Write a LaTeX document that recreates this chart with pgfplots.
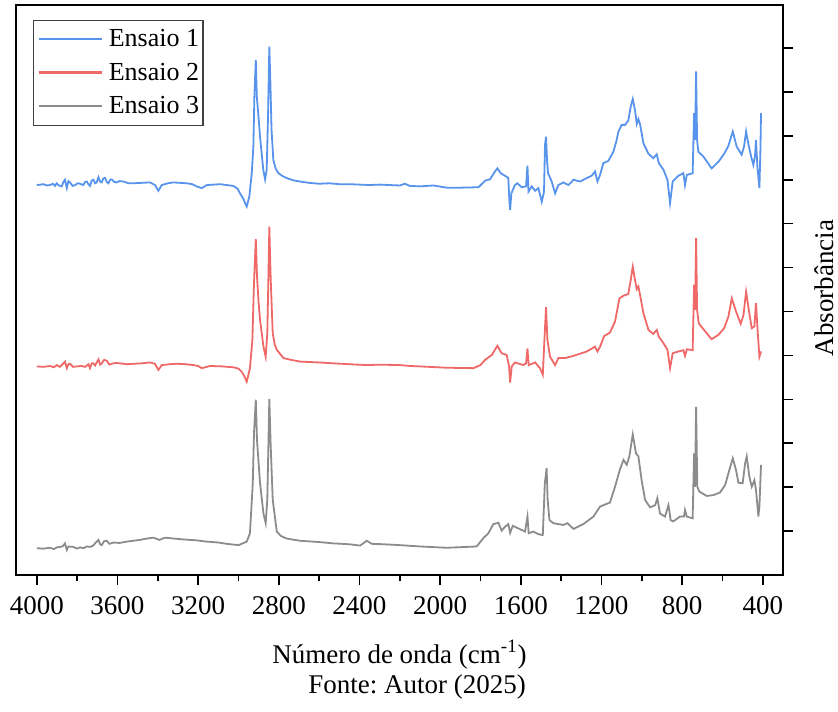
\documentclass[border=0pt]{standalone}
\usepackage{pgfplots}
\pgfplotsset{compat=1.18}
\usepackage{fontspec}
\setmainfont{Liberation Serif}
\frenchspacing
\definecolor{cblue}{RGB}{88,148,235}
\definecolor{cred}{RGB}{240,105,105}
\definecolor{cgray}{RGB}{140,140,140}
\begin{document}
\begin{tikzpicture}
\path[use as bounding box] (-8pt,-68pt) rectangle (411pt,287.5pt);
\begin{axis}[
  at={(0pt,0pt)}, anchor=south west,
  scale only axis, width=383.5pt, height=285pt,
  x dir=reverse, xmin=300, xmax=4103, ymin=0, ymax=12.98,
  axis line style={line width=1pt},
  xtick={400,800,...,4000}, minor x tick num=1,
  ytick={1,2,...,12}, yticklabels={},
  xtick pos=left, ytick pos=right,
  tick align=outside, major tick length=5pt, minor tick length=3pt,
  every tick/.style={black, line width=0.8pt},
  xticklabel style={font=\fontsize{13.5}{16}\selectfont, yshift=-2pt},
  /pgf/number format/set thousands separator={},
  /pgf/number format/assume math mode=true,
  xlabel={Número de onda (cm\textsuperscript{-1})},
  xlabel style={at={(axis description cs:0.5,0)}, anchor=base, yshift=-44pt, font=\fontsize{13.5}{16}\selectfont},
  ylabel={Absorbância},
  ylabel style={at={(axis description cs:1.0535,0.5035)}, anchor=center, font=\fontsize{13.5}{16}\selectfont},
  legend style={at={(axis description cs:0.0222,0.9737)}, anchor=north west,
    draw=black!75, line width=0.6pt, inner xsep=2pt, inner ysep=3pt,
    font=\fontsize{13}{15}\selectfont, row sep=3.75pt,
    nodes={inner sep=0pt, text height=10pt, text depth=3pt},
    /tikz/every odd column/.append style={column sep=3pt}},
  legend cell align=left,
  legend image code/.code={\draw[#1, line width=1.1pt, yshift=0.25pt] (0pt,0pt) -- (31.5pt,0pt);},
  every axis plot/.append style={line width=0.9pt},
]
\addplot[color=cblue] table {
x y
4000 8.88
3980 8.89
3967 8.90
3950 8.87
3934 8.88
3920 8.91
3910 8.86
3901 8.92
3890 8.87
3876 8.85
3868 8.95
3860 9.00
3851 8.81
3843 8.97
3835 8.94
3822 8.86
3810 8.88
3797 8.92
3785 8.91
3770 8.88
3760 8.95
3752 8.96
3744 8.90
3736 8.86
3728 8.98
3719 9.00
3711 8.92
3703 8.94
3694 9.06
3686 8.96
3678 8.94
3670 9.03
3661 9.04
3653 8.95
3645 8.92
3636 9.00
3628 9.01
3616 8.95
3604 8.94
3590 8.97
3570 8.96
3545 8.92
3521 8.92
3480 8.93
3438 8.94
3414 8.88
3397 8.75
3380 8.88
3350 8.92
3323 8.94
3290 8.93
3256 8.92
3230 8.90
3207 8.85
3182 8.81
3157 8.88
3120 8.89
3091 8.90
3060 8.88
3025 8.86
3005 8.80
2992 8.69
2975 8.56
2967 8.47
2959 8.39
2946 8.62
2934 9.15
2926 9.76
2921 10.90
2914 11.73
2909 10.90
2900 10.40
2893 9.98
2877 9.23
2868 9.01
2860 9.23
2853 10.52
2847 12.03
2842 11.28
2836 10.14
2827 9.45
2815 9.25
2802 9.15
2780 9.08
2761 9.04
2730 8.99
2695 8.96
2650 8.93
2600 8.91
2550 8.92
2500 8.90
2450 8.90
2400 8.89
2350 8.88
2300 8.89
2250 8.88
2200 8.87
2175 8.91
2150 8.86
2100 8.85
2034 8.87
1967 8.82
1901 8.82
1810 8.83
1790 8.92
1777 8.98
1753 9.01
1728 9.19
1716 9.26
1700 9.15
1678 9.09
1662 9.04
1657 8.54
1653 8.31
1647 8.69
1629 8.88
1617 8.92
1596 8.83
1574 8.85
1567 9.32
1562 8.73
1546 8.85
1529 8.75
1513 8.81
1496 8.50
1485 8.73
1480 9.80
1475 9.98
1470 9.45
1465 9.15
1447 8.96
1430 8.69
1414 8.88
1389 8.94
1364 8.88
1339 9.00
1306 8.96
1273 9.04
1249 9.09
1232 9.19
1220 8.96
1207 9.11
1191 9.38
1166 9.43
1141 9.64
1125 9.90
1116 10.10
1100 10.25
1083 10.25
1067 10.35
1055 10.67
1045 10.84
1034 10.59
1025 10.27
1017 10.38
1009 10.27
992 9.83
967 9.59
943 9.49
926 9.58
916 9.38
893 9.23
873 9.00
860 8.47
847 8.96
819 9.09
794 9.15
786 8.88
777 9.11
748 9.15
741 10.52
736 9.91
731 11.47
726 9.91
720 9.64
695 9.53
654 9.26
620 9.41
592 9.59
571 9.77
549 10.10
530 9.76
505 9.57
493 9.76
483 10.10
472 9.82
458 9.53
447 9.34
439 9.53
434 9.91
427 9.30
417 8.81
412 9.68
409 10.52
};
\addlegendentry{Ensaio 1}
\addplot[color=cred] table {
x y
4000 4.75
3967 4.74
3934 4.76
3915 4.73
3901 4.78
3885 4.74
3868 4.82
3860 4.86
3851 4.71
3843 4.80
3835 4.81
3820 4.74
3802 4.75
3780 4.76
3760 4.74
3752 4.77
3744 4.80
3736 4.71
3728 4.82
3719 4.82
3711 4.77
3694 4.91
3686 4.79
3678 4.82
3666 4.90
3653 4.88
3640 4.79
3628 4.81
3610 4.83
3587 4.82
3550 4.80
3521 4.81
3480 4.82
3438 4.84
3414 4.81
3397 4.67
3380 4.78
3340 4.80
3306 4.81
3260 4.80
3223 4.78
3200 4.76
3182 4.71
3141 4.76
3080 4.75
3025 4.73
3000 4.70
2984 4.63
2970 4.52
2959 4.40
2943 4.71
2931 5.35
2923 6.64
2914 7.65
2908 6.80
2900 6.20
2893 5.81
2876 5.20
2865 4.97
2857 5.50
2852 6.64
2847 7.93
2840 6.72
2830 5.50
2820 5.25
2810 5.13
2777 4.94
2740 4.90
2695 4.86
2600 4.84
2529 4.82
2450 4.80
2364 4.78
2300 4.79
2199 4.78
2150 4.76
2100 4.75
1967 4.72
1835 4.71
1800 4.78
1777 4.90
1744 5.01
1716 5.22
1695 5.05
1670 5.01
1658 4.75
1653 4.38
1645 4.75
1629 4.84
1587 4.78
1574 4.82
1567 5.16
1561 4.78
1529 4.84
1505 4.71
1491 4.56
1483 5.35
1475 6.10
1468 5.35
1455 4.97
1430 4.78
1414 4.94
1381 4.94
1339 4.99
1273 5.09
1232 5.20
1220 5.09
1207 5.20
1187 5.44
1158 5.52
1133 5.77
1111 6.30
1091 6.36
1067 6.40
1055 6.72
1045 7.02
1034 6.72
1025 6.51
1017 6.57
1009 6.38
992 5.96
967 5.58
943 5.49
926 5.58
916 5.43
893 5.28
873 5.13
860 4.71
847 5.05
819 5.09
794 5.12
786 4.99
777 5.14
748 5.12
741 6.61
736 6.04
731 7.67
726 6.04
718 5.73
695 5.60
654 5.37
620 5.47
592 5.62
571 5.88
554 6.30
533 6.00
510 5.72
496 5.92
483 6.45
467 5.96
455 5.62
442 5.66
434 6.19
425 5.50
417 4.97
409 5.09
};
\addlegendentry{Ensaio 2}
\addplot[color=cgray] table {
x y
4000 0.61
3967 0.60
3934 0.62
3915 0.59
3900 0.63
3884 0.64
3870 0.66
3860 0.72
3851 0.57
3843 0.65
3818 0.64
3800 0.60
3785 0.63
3769 0.61
3752 0.65
3736 0.64
3720 0.67
3711 0.72
3694 0.80
3686 0.70
3678 0.68
3666 0.77
3653 0.78
3640 0.71
3620 0.74
3590 0.73
3554 0.76
3520 0.78
3488 0.80
3455 0.83
3422 0.85
3392 0.80
3364 0.85
3320 0.83
3273 0.81
3210 0.79
3157 0.76
3100 0.74
3058 0.71
3000 0.68
2959 0.76
2943 0.95
2929 2.09
2923 3.23
2914 3.99
2908 3.07
2893 2.09
2876 1.40
2865 1.18
2857 1.71
2852 2.85
2847 4.01
2840 2.92
2830 1.71
2810 0.99
2790 0.89
2761 0.83
2695 0.78
2600 0.75
2529 0.72
2450 0.70
2397 0.67
2364 0.78
2339 0.71
2280 0.70
2199 0.68
2100 0.65
1967 0.62
1819 0.65
1786 0.84
1761 0.95
1736 1.16
1711 1.19
1695 1.01
1678 1.10
1662 1.16
1653 0.96
1640 1.12
1612 1.06
1579 0.99
1567 1.33
1561 0.95
1538 0.99
1513 0.93
1491 0.91
1481 2.09
1472 2.43
1467 1.71
1458 1.25
1439 1.18
1389 1.14
1369 1.18
1339 1.05
1290 1.16
1240 1.33
1207 1.56
1158 1.65
1133 2.01
1108 2.41
1091 2.62
1075 2.51
1062 2.70
1045 3.20
1029 2.77
1017 2.70
1001 2.16
984 1.71
959 1.54
934 1.59
923 1.75
910 1.40
885 1.33
868 1.59
857 1.25
844 1.22
811 1.33
791 1.33
786 1.48
777 1.33
748 1.29
741 2.77
736 2.01
731 3.83
725 2.01
715 1.90
678 1.80
645 1.82
612 1.88
587 2.05
566 2.39
549 2.66
533 2.39
521 2.10
500 2.09
488 2.54
480 2.70
467 2.24
455 2.01
442 2.16
434 1.94
422 1.33
417 1.56
409 2.51
};
\addlegendentry{Ensaio 3}
\end{axis}
\node[anchor=base, font=\fontsize{13.5}{16}\selectfont] at (200.5pt,-59pt) {Fonte: Autor (2025)};
\end{tikzpicture}
\end{document}
